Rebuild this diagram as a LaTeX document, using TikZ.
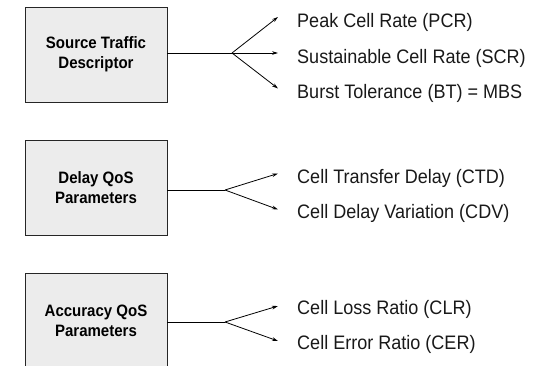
\documentclass[tikz,border=0pt]{standalone}
\usepackage{fontspec}
\setmainfont{Liberation Sans}
\newfontfamily\boxfont[FakeStretch=0.91]{Liberation Sans}
\newfontfamily\itemfont[FakeStretch=0.925]{Liberation Sans}
\usetikzlibrary{arrows.meta}
\definecolor{boxgray}{RGB}{236,236,236}
\begin{document}
\begin{tikzpicture}[x=1pt,y=-1pt,
  groupbox/.style={draw=black!85, line width=0.8pt, fill=boxgray, minimum width=142pt, minimum height=95pt,
    align=center, inner sep=0pt, font=\boxfont\fontsize{16.5}{20}\selectfont\bfseries},
  itemtext/.style={anchor=base west, inner sep=0pt, font=\itemfont\fontsize{19.5}{22}\selectfont, text=black!90},
  stem/.style={line width=0.8pt},
  branch/.style={line width=0.8pt, -{Stealth[length=6pt,width=3.6pt]}}]
\useasboundingbox (0,0) rectangle (539,366);
\clip (0,0) rectangle (539,366);
% boxes
\node[groupbox] (b1) at (96,54.5) {Source Traffic\\Descriptor};
\node[groupbox] (b2) at (96,187.5) {Delay QoS\\Parameters};
\node[groupbox] (b3) at (96,320.5) {Accuracy QoS\\Parameters};
% fork points
\coordinate (f1) at (232,53);
\coordinate (f2) at (225,190);
\coordinate (f3) at (225,322);
% arrow tips
\coordinate (t11) at (278,17);
\coordinate (t12) at (278,53);
\coordinate (t13) at (278,88.5);
\coordinate (t21) at (278,173.5);
\coordinate (t22) at (278,209.5);
\coordinate (t31) at (278,306);
\coordinate (t32) at (278,341);
% stems
\draw[stem] (b1.east |- f1) -- (f1);
\draw[stem] (b2.east |- f2) -- (f2);
\draw[stem] (b3.east |- f3) -- (f3);
% branches
\draw[branch] (f1) -- (t11);
\draw[branch] (f1) -- (t12);
\draw[branch] (f1) -- (t13);
\draw[branch] (f2) -- (t21);
\draw[branch] (f2) -- (t22);
\draw[branch] (f3) -- (t31);
\draw[branch] (f3) -- (t32);
% texts
\node[itemtext] (l11) at (297,28) {Peak Cell Rate (PCR)};
\node[itemtext] (l12) at (297,63.3) {Sustainable Cell Rate (SCR)};
\node[itemtext] (l13) at (297,98.5) {Burst Tolerance (BT) = MBS};
\node[itemtext] (l21) at (297,183.5) {Cell Transfer Delay (CTD)};
\node[itemtext] (l22) at (297,218.5) {Cell Delay Variation (CDV)};
\node[itemtext] (l31) at (297,315) {Cell Loss Ratio (CLR)};
\node[itemtext] (l32) at (297,350) {Cell Error Ratio (CER)};
\end{tikzpicture}
\end{document}
